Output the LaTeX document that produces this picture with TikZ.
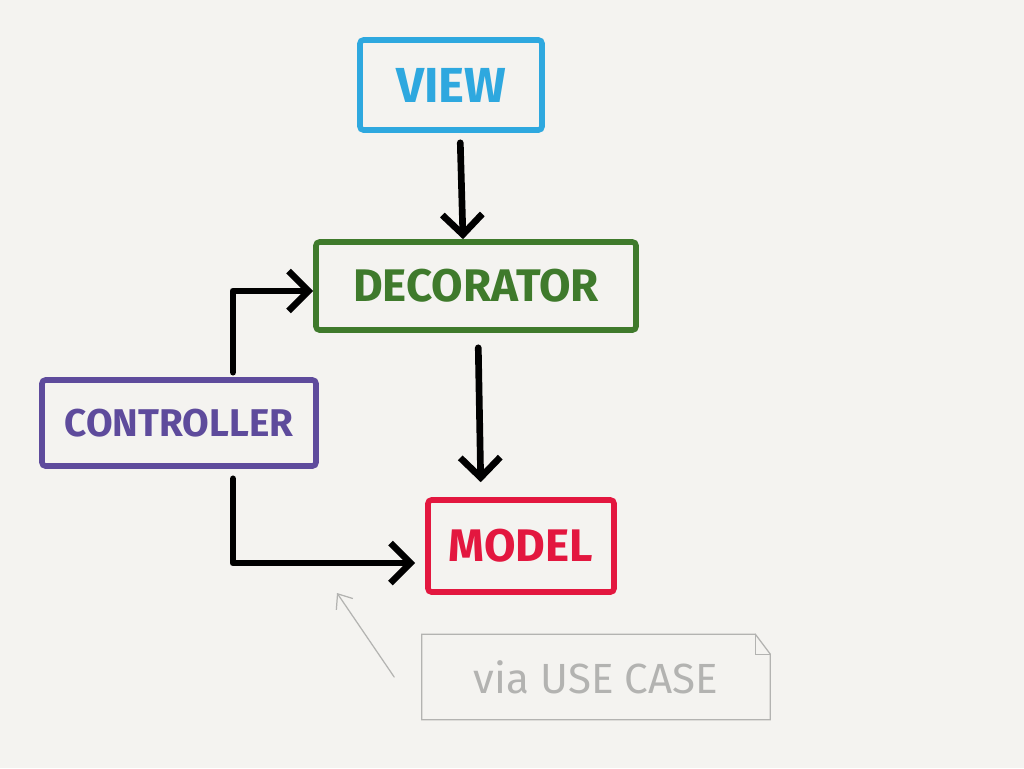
\documentclass[tikz,border=0pt]{standalone}
\usepackage{fontspec}
\setsansfont{Fira Sans}
\usetikzlibrary{arrows.meta}
\definecolor{paper}{HTML}{F4F3F0}
\definecolor{viewblue}{HTML}{2EA8DF}
\definecolor{decogreen}{HTML}{3F7A2C}
\definecolor{ctrlpurple}{HTML}{5E4B9C}
\definecolor{modelred}{HTML}{E3173F}
\definecolor{pencil}{HTML}{B3B3B1}
\tikzset{
  box/.style={draw, line width=3.2pt, rounded corners=2pt, line cap=round,
    font=\sffamily\bfseries, inner sep=0pt},
  link/.style={line width=3.8pt, line cap=round, line join=round,
    -{Straight Barb[length=4mm,width=8mm]}},
  sketch/.style={pencil, line width=0.7pt, line cap=round}
}

\begin{document}
\begin{tikzpicture}[x=0.02cm,y=-0.02cm]
        \fill[paper] (0,0) rectangle (1024,768);
        \useasboundingbox (0,0) rectangle (1024,768);
        % boxes
        \node[box, draw=viewblue, text=viewblue, minimum width=3.64cm, minimum height=1.8cm,
              font=\sffamily\bfseries\fontsize{28}{30}\selectfont] (view) at (451,85) {VIEW};
        \node[box, draw=decogreen, text=decogreen, minimum width=6.4cm, minimum height=1.76cm,
              font=\sffamily\bfseries\fontsize{26}{28}\selectfont] (deco) at (476,286) {DECORATOR};
        \node[box, draw=ctrlpurple, text=ctrlpurple, minimum width=5.48cm, minimum height=1.72cm,
              font=\sffamily\bfseries\fontsize{22}{24}\selectfont] (ctrl) at (179,423) {CONTROLLER};
        \node[box, draw=modelred, text=modelred, minimum width=3.72cm, minimum height=1.84cm,
              font=\sffamily\bfseries\fontsize{26}{28}\selectfont] (model) at (521,546) {MODEL};
        % the pencil note
        \node[text=pencil, minimum width=6.96cm, minimum height=1.7cm, inner sep=0pt,
              font=\sffamily\fontsize{24}{26}\selectfont] (note) at (596,677) {via USE CASE};
        \draw[sketch] (note.north west) -- ([xshift=-0.3cm]note.north east)
              -- ([yshift=-0.4cm]note.north east) -- (note.south east)
              -- (note.south west) -- cycle;
        \draw[sketch] ([xshift=-0.3cm]note.north east) |- ([yshift=-0.4cm]note.north east);
        % arrows
        \draw[link, shorten <=0.2cm] ([xshift=0.18cm]view.south) -- ([xshift=-0.26cm]deco.north);
        \draw[link, shorten <=0.3cm, shorten >=0.3cm] ([xshift=0.04cm]deco.south) -- ([xshift=-0.8cm]model.north);
        \draw[link, shorten <=0.1cm] ([xshift=1.08cm]ctrl.north) |- ([yshift=-0.1cm]deco.west);
        \draw[link, shorten <=0.2cm, shorten >=0.2cm] ([xshift=1.08cm]ctrl.south) |- ([yshift=-0.34cm]model.west);
        \coordinate (hint) at (337,593);
        \draw[sketch, -{Straight Barb[length=2.5mm,width=4mm]}] ([xshift=-0.55cm]note.west) -- (hint);
\end{tikzpicture}
\end{document}
